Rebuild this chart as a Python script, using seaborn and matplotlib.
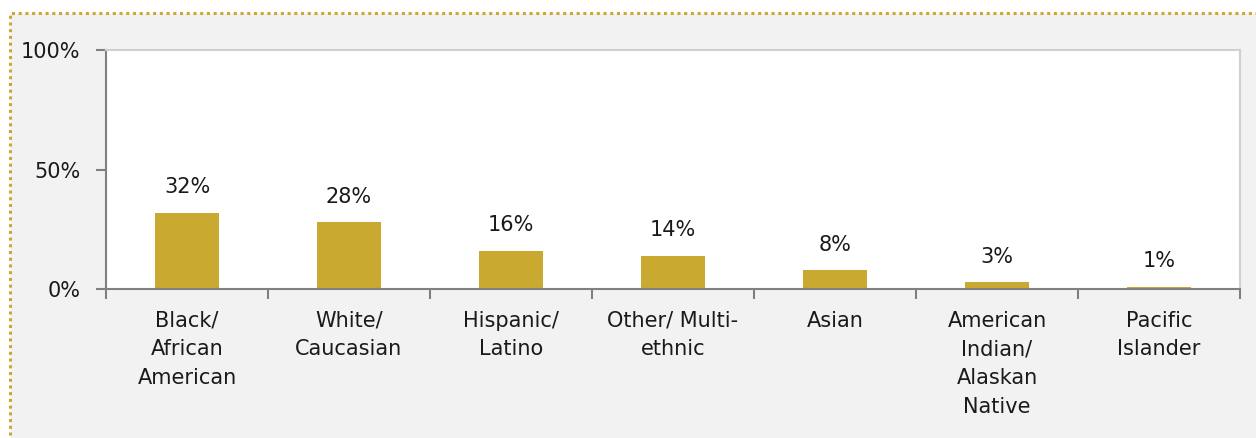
import matplotlib
matplotlib.use("Agg")
import matplotlib.pyplot as plt
import seaborn as sns
import pandas as pd
from matplotlib.patches import Rectangle

categories = ["Black/\nAfrican\nAmerican", "White/\nCaucasian", "Hispanic/\nLatino",
              "Other/ Multi-\nethnic", "Asian", "American\nIndian/\nAlaskan\nNative",
              "Pacific\nIslander"]
values = [32, 28, 16, 14, 8, 3, 1]
y_ticks = [0, 50, 100]
y_tick_labels = ["0%", "50%", "100%"]

sns.set_theme(style="white")
plt.rcParams['font.family'] = ['DejaVu Sans']

W, H = 1256, 438
fig = plt.figure(figsize=(W / 100, H / 100), dpi=100, facecolor="white")
bg = Rectangle((10 / W, -0.05), 1.1, 1 - 13 / H + 0.05, transform=fig.transFigure,
               facecolor="#f2f2f2", edgecolor="#c9a92f", linestyle=(0, (1, 1.2)),
               linewidth=2.2, zorder=-10)
fig.patches.append(bg)

ax = fig.add_axes([106 / W, 1 - 289 / H, (1240 - 106) / W, (289 - 50) / H])
ax.set_facecolor("white")

df = pd.DataFrame({"cat": categories, "val": values})
sns.barplot(data=df, x="cat", y="val", color="#c9a92f", saturation=1, width=0.4,
            linewidth=0, ax=ax)

ax.set_ylim(0, 100)
ax.set_xlim(-0.5, len(categories) - 0.5)
ax.set_yticks(y_ticks)
ax.set_yticklabels(y_tick_labels)
ax.set_xlabel("")
ax.set_ylabel("")

for p, v in zip(ax.patches, values):
    ax.annotate(f"{v}%", (p.get_x() + p.get_width() / 2, p.get_height()),
                xytext=(0, 11), textcoords="offset points", ha="center", va="bottom",
                fontsize=15, color="#1a1a1a")

ax.set_xticks([i - 0.5 for i in range(len(categories) + 1)], minor=True)
ax.tick_params(axis="x", which="major", length=0, pad=15.5, labelsize=15, labelcolor="#1a1a1a")
ax.tick_params(axis="x", which="minor", length=7, width=1.5, color="#808080", direction="out")
ax.tick_params(axis="y", length=7, width=1.5, color="#808080", direction="out", pad=11.5,
               labelsize=15, labelcolor="#1a1a1a")
ax.tick_params(bottom=True, left=True, which="both")
ax.tick_params(axis="x", which="major", bottom=False)
for lab in ax.get_xticklabels():
    lab.set_linespacing(1.56)

for s in ["left", "bottom"]:
    ax.spines[s].set_color("#808080")
    ax.spines[s].set_linewidth(1.5)
for s in ["top", "right"]:
    ax.spines[s].set_color("#d0d0d0")
    ax.spines[s].set_linewidth(1.5)

fig.savefig("out.png", dpi=100, facecolor=fig.get_facecolor())
